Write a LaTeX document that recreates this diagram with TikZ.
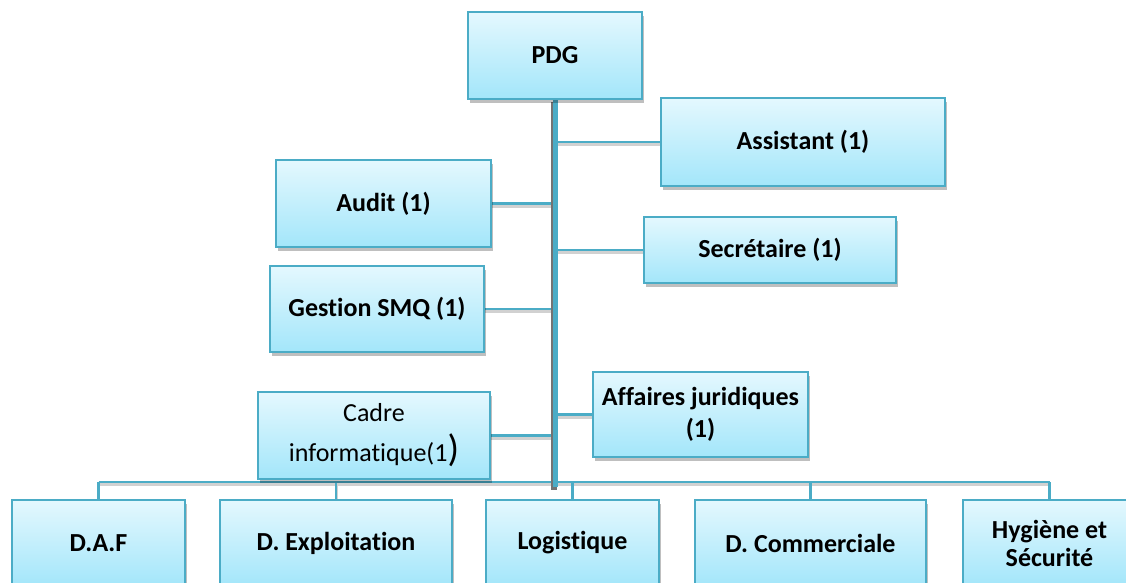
\documentclass[tikz,border=0pt]{standalone}
\usepackage{fontspec}
\setmainfont{Carlito}[Ligatures=NoCommon]
\usetikzlibrary{shadows,backgrounds}

\definecolor{bord}{HTML}{4BACC6}
\definecolor{haut}{HTML}{E4F8FE}
\definecolor{bas}{HTML}{A3E6FA}

\tikzset{
  poste/.style={draw=bord, line width=2pt, top color=haut, bottom color=bas,
    inner sep=2pt, outer sep=0pt, align=center,
    font=\fontsize{26}{32}\selectfont\bfseries,
    drop shadow={shadow xshift=2pt, shadow yshift=-4pt, opacity=0.25, fill=black}},
  lien/.style={draw=bord, line width=2.2pt,
    preaction={draw=black!18, line width=3pt, transform canvas={yshift=-2.5pt}}},
  tronc/.style={draw=bord, line width=5pt,
    preaction={draw=black!55, line width=6pt, transform canvas={xshift=-1pt, yshift=-3pt}}}
}

\begin{document}
\begin{tikzpicture}[x=1pt, y=-1pt]
  \useasboundingbox (0,0) rectangle (1126,583);

  % direction
  \node[poste, minimum width=174pt, minimum height=87pt] (pdg) at (555,55.5) {PDG};

  % services rattaches
  \node[poste, minimum width=284pt, minimum height=88pt] (assist) at (803,142) {Assistant (1)};
  \node[poste, minimum width=215pt, minimum height=87pt] (audit) at (383.5,203.5) {Audit (1)};
  \node[poste, minimum width=252pt, minimum height=66pt] (secr) at (770,250) {Secrétaire (1)};
  \node[poste, minimum width=214pt, minimum height=86pt] (smq) at (377,309) {Gestion SMQ (1)};
  \node[poste, minimum width=215pt, minimum height=85pt] (jur) at (700.5,414.5) {Affaires juridiques\\(1)};
  \node[poste, minimum width=232pt, minimum height=87pt,
        font=\fontsize{26}{40}\selectfont] (info) at (374,435.5)
        {Cadre\\informatique(1{\fontsize{38}{38}\selectfont)}};

  % directions
  \node[poste, minimum width=173pt, minimum height=86pt] (daf) at (98.5,543) {D.A.F};
  \node[poste, minimum width=232pt, minimum height=86pt] (expl) at (336,543) {D. Exploitation};
  \node[poste, minimum width=173pt, minimum height=86pt] (logi) at (572.5,543) {Logistique};
  \node[poste, minimum width=231pt, minimum height=86pt] (comm) at (810.5,543) {D. Commerciale};
  \node[poste, minimum width=173pt, minimum height=86pt,
        font=\fontsize{26}{28}\selectfont\bfseries] (hyg) at (1049.5,543) {Hygiène et\\Sécurité};

  \coordinate (bus) at (555,482);
  \coordinate (fin) at (555,487);

  \begin{scope}[on background layer]
    \draw[lien] (daf.north |- bus) -- (hyg.north |- bus);
    \foreach \n in {daf,expl,logi,comm,hyg}
      \draw[lien] (\n.north) -- (\n.north |- bus);
    \foreach \n in {audit,smq,info}
      \draw[lien] (\n.east) -- (\n.east -| pdg.south);
    \foreach \n in {assist,secr,jur}
      \draw[lien] (\n.west) -- (\n.west -| pdg.south);
    \draw[tronc] (pdg.south) -- (fin);
  \end{scope}
\end{tikzpicture}
\end{document}
